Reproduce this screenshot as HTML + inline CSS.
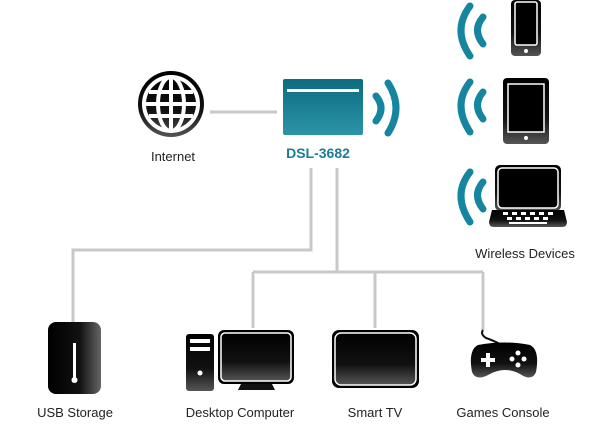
<!DOCTYPE html>
<html><head><style>
html,body{margin:0;padding:0;background:#fff;}
svg{display:block}
text{font-family:"Liberation Sans",sans-serif;font-size:13px;fill:#222}
</style></head><body>
<svg width="600" height="429" viewBox="0 0 600 429" xmlns="http://www.w3.org/2000/svg">
<defs>
<linearGradient id="blk" x1="0" y1="0" x2="0" y2="1"><stop offset="0" stop-color="#000"/><stop offset="0.6" stop-color="#111"/><stop offset="1" stop-color="#555"/></linearGradient>
<linearGradient id="blkh" x1="0" y1="0" x2="1" y2="0"><stop offset="0" stop-color="#000"/><stop offset="0.6" stop-color="#111"/><stop offset="1" stop-color="#666"/></linearGradient>
<linearGradient id="teal" x1="0" y1="0" x2="0" y2="1"><stop offset="0" stop-color="#0d6b7f"/><stop offset="1" stop-color="#2b93a8"/></linearGradient>
</defs>
<!-- connectors -->
<g stroke="#c8c8c8" stroke-width="3" fill="none">
<line x1="210" y1="112" x2="277" y2="112"/>
<polyline points="311,168 311,250 73,250 73,322"/>
<polyline points="337,168 337,272"/>
<line x1="253" y1="272" x2="483" y2="272"/>
<line x1="253" y1="272" x2="253" y2="328"/>
<line x1="375" y1="272" x2="375" y2="328"/>
<line x1="483" y1="272" x2="483" y2="330"/>
</g>
<!-- globe -->
<circle cx="171" cy="104" r="33" fill="url(#blk)"/>
<circle cx="171" cy="104" r="27" fill="none" stroke="#fff" stroke-width="4"/>
<ellipse cx="171" cy="104" rx="13" ry="27" fill="none" stroke="#fff" stroke-width="4"/>
<line x1="171" y1="77" x2="171" y2="131" stroke="#fff" stroke-width="4"/>
<line x1="144" y1="104" x2="198" y2="104" stroke="#fff" stroke-width="4"/>
<line x1="149" y1="92" x2="193" y2="92" stroke="#fff" stroke-width="4"/>
<line x1="149" y1="116" x2="193" y2="116" stroke="#fff" stroke-width="4"/>
<text x="173" y="161" text-anchor="middle">Internet</text>
<!-- router -->
<rect x="283" y="79" width="80" height="56" rx="2" fill="url(#teal)"/>
<rect x="287" y="89" width="72" height="3" fill="#fff"/>
<path d="M376,96 Q386,108 376,121" stroke="#1685a0" stroke-width="7" fill="none" stroke-linecap="round"/>
<path d="M388,83 Q404,108 388,133" stroke="#1685a0" stroke-width="7" fill="none" stroke-linecap="round"/>
<text x="318" y="158" text-anchor="middle" style="font-weight:bold;font-size:14px;fill:#1a7d96">DSL-3682</text>
<!-- wireless waves -->
<g stroke="#1685a0" stroke-width="7" fill="none" stroke-linecap="round">
<path d="M483,17 Q472,30 483,44"/><path d="M470,6 Q452,30 470,56"/>
<path d="M483,92 Q472,105 483,119"/><path d="M470,82 Q452,105 470,132"/>
<path d="M483,182 Q472,195 483,209"/><path d="M470,172 Q452,195 470,222"/>
</g>
<!-- phone -->
<rect x="511" y="0" width="30" height="56" rx="4" fill="url(#blk)"/>
<rect x="515" y="2" width="22" height="43" rx="2" fill="#000" stroke="#fff" stroke-width="1.5"/>
<circle cx="526" cy="51" r="2" fill="#fff"/>
<!-- tablet -->
<rect x="503" y="78" width="46" height="66" rx="4" fill="url(#blk)"/>
<rect x="508" y="84" width="36" height="48" fill="#000" stroke="#fff" stroke-width="1.5"/>
<circle cx="526" cy="138" r="2" fill="#fff"/>
<!-- laptop -->
<rect x="495" y="165" width="66" height="46" rx="5" fill="url(#blk)"/>
<rect x="498" y="168" width="60" height="40" rx="4" fill="#000" stroke="#fff" stroke-width="1.5"/>
<path d="M492,210 L564,210 L567,222 Q567,227 562,227 L494,227 Q489,227 489,222 Z" fill="url(#blk)"/>
<g fill="#fff"><rect x="503" y="212" width="5" height="3"/><rect x="512" y="212" width="5" height="3"/><rect x="521" y="212" width="5" height="3"/><rect x="530" y="212" width="5" height="3"/><rect x="539" y="212" width="5" height="3"/><rect x="548" y="212" width="5" height="3"/><rect x="507" y="217" width="5" height="3"/><rect x="516" y="217" width="5" height="3"/><rect x="525" y="217" width="5" height="3"/><rect x="534" y="217" width="5" height="3"/><rect x="543" y="217" width="5" height="3"/><rect x="509" y="222" width="38" height="2"/></g>
<text x="525" y="258" text-anchor="middle">Wireless Devices</text>
<!-- USB -->
<rect x="48" y="322" width="53" height="72" rx="8" fill="url(#blkh)"/>
<rect x="73" y="343" width="3" height="36" fill="#fff"/><circle cx="74.5" cy="380" r="3" fill="#fff"/>
<text x="75" y="417" text-anchor="middle">USB Storage</text>
<!-- desktop -->
<rect x="186" y="334" width="28" height="57" rx="3" fill="url(#blk)"/>
<rect x="190" y="339" width="20" height="4" fill="#fff"/><rect x="190" y="347" width="20" height="4" fill="#fff"/>
<circle cx="200" cy="373" r="2.5" fill="#fff"/>
<rect x="218" y="330" width="76" height="54" rx="6" fill="#000"/>
<rect x="221" y="333" width="70" height="48" rx="4" fill="url(#blk)" stroke="#fff" stroke-width="1.5"/>
<path d="M241,384 L272,384 L275,390 L238,390 Z" fill="#111"/>
<text x="240" y="417" text-anchor="middle">Desktop Computer</text>
<!-- TV -->
<rect x="332" y="330" width="87" height="58" rx="7" fill="#000"/>
<rect x="335" y="333" width="81" height="52" rx="6" fill="url(#blk)" stroke="#fff" stroke-width="1.5"/>
<text x="375" y="417" text-anchor="middle">Smart TV</text>
<!-- gamepad -->
<path d="M483,330 Q480,334 486,338 Q492,340 500,344" stroke="#111" stroke-width="2" fill="none"/>
<path d="M478,345 Q505,340 530,345 Q540,350 536,372 Q532,382 520,374 Q505,366 490,374 Q476,382 472,372 Q468,350 478,345 Z" fill="url(#blk)"/>
<g fill="#fff"><rect x="481" y="358" width="14" height="4"/><rect x="486" y="353" width="4" height="14"/>
<circle cx="518" cy="353" r="2.5"/><circle cx="518" cy="365" r="2.5"/><circle cx="512" cy="359" r="2.5"/><circle cx="524" cy="359" r="2.5"/></g>
<text x="503" y="417" text-anchor="middle">Games Console</text>
</svg>
</body></html>
